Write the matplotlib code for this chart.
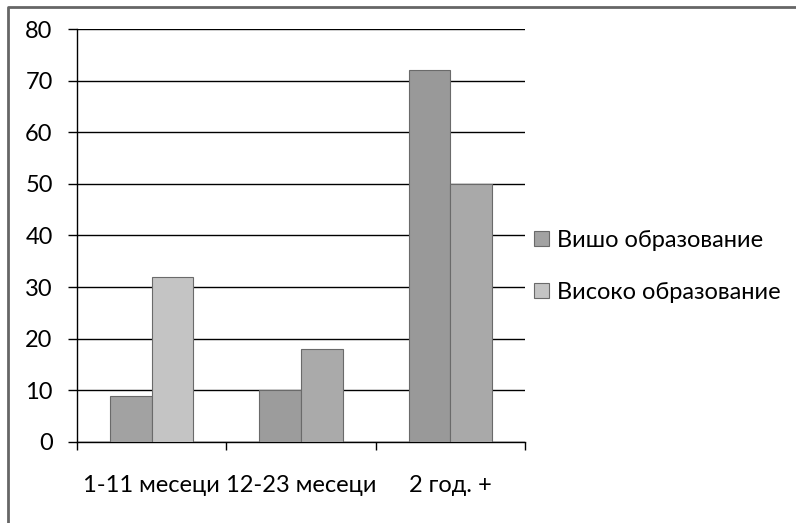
import matplotlib.pyplot as plt
import matplotlib.lines as mlines
import numpy as np

categories = ['1-11 месеци', '12-23 месеци', '2 год. +']
series_names = ['Вишо образование', 'Високо образование']
visho = [9, 10, 72]
visoko = [32, 18, 50]
y_ticks = [0, 10, 20, 30, 40, 50, 60, 70, 80]

plt.rcParams['font.family'] = ['Lato', 'DejaVu Sans']

fig = plt.figure(figsize=(7.96, 5.23), dpi=100)
# scanned frame: only top and left edges visible
fig.lines.append(mlines.Line2D([8/796, 8/796, 1.0], [0.0, 1-7/523, 1-7/523], transform=fig.transFigure,
                               color='#666666', linewidth=2))
ax = fig.add_axes([77/796, 1-442/523, 448/796, 413/523])

x = np.arange(len(categories))
w = 0.28
c1 = ['#a2a2a2', '#9c9c9c', '#999999']
c2 = ['#c4c4c4', '#aaaaaa', '#a9a9a9']
ax.bar(x - w/2, visho, w, color=c1, edgecolor='#6a6a6a', linewidth=0.8, label=series_names[0], zorder=3)
ax.bar(x + w/2, visoko, w, color=c2, edgecolor='#6a6a6a', linewidth=0.8, label=series_names[1], zorder=3)

ax.set_xlim(-0.5, 2.5)
ax.set_ylim(0, 80)
ax.set_yticks(y_ticks)
ax.tick_params(axis='y', labelsize=17, length=6.5, width=1, pad=11, colors='black')
ax.set_xticks([-0.5, 0.5, 1.5, 2.5])
ax.set_xticklabels([])
ax.set_xticks(x, minor=True)
ax.set_xticklabels(categories, minor=True, fontsize=17)
ax.tick_params(axis='x', which='major', length=6, width=1, direction='out')
ax.tick_params(axis='x', which='minor', length=0, pad=24)
ax.yaxis.grid(True, color='black', linewidth=1)
ax.set_axisbelow(True)
for s in ['top', 'right']:
    ax.spines[s].set_visible(False)
ax.spines['left'].set_linewidth(1)
ax.spines['bottom'].set_linewidth(1)

ax.legend(loc='center left', bbox_to_anchor=(1.0, 0.425), frameon=False, fontsize=17,
          handlelength=0.6, handleheight=0.6, handletextpad=0.35, labelspacing=1.3, borderaxespad=0.0)

fig.savefig('out.png', dpi=100)
